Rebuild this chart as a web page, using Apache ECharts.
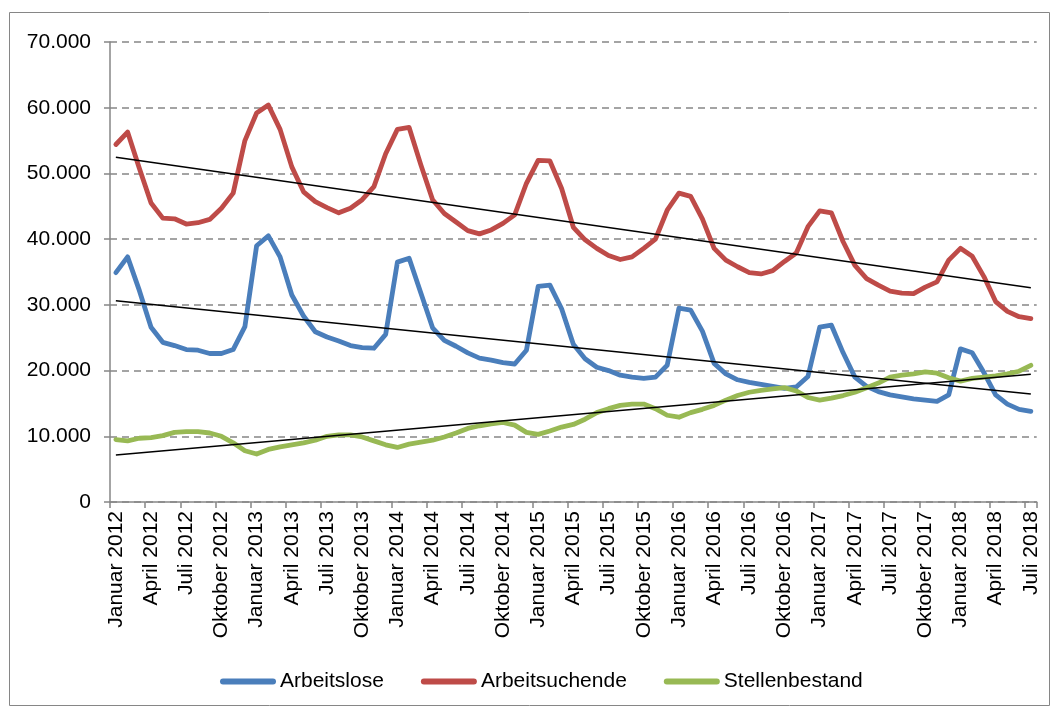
<!DOCTYPE html>
<html>
<head>
<meta charset="utf-8">
<script src="https://cdn.jsdelivr.net/npm/echarts@6/dist/echarts.min.js"></script>
<style>
  html, body { margin: 0; padding: 0; background: #ffffff; }
  #chart { width: 1054px; height: 709px; }
</style>
</head>
<body>
<div id="chart"></div>
<script>
// ---- Data ----
const MONTH_NAMES = ['Januar', 'Februar', 'März', 'April', 'Mai', 'Juni', 'Juli', 'August', 'September', 'Oktober', 'November', 'Dezember'];
const YEARS = [2012, 2013, 2014, 2015, 2016, 2017, 2018];
const LAST_MONTH_2018 = 7; // Januar..Juli 2018

const arbeitslose = [
  34900, 37300, 32200, 26600, 24300, 23800, 23200, 23100, 22600, 22600, 23200, 26700,
  39000, 40500, 37300, 31500, 28300, 25900, 25100, 24500, 23800, 23500, 23400, 25500,
  36500, 37100, 31800, 26500, 24600, 23700, 22700, 21900, 21600, 21200, 21000, 23100,
  32800, 33000, 29400, 24000, 21800, 20500, 20000, 19300, 19000, 18800, 19000, 20800,
  29500, 29200, 26000, 21100, 19500, 18600, 18200, 17900, 17600, 17300, 17500, 19100,
  26600, 26900, 22700, 19000, 17600, 16800, 16300, 16000, 15700, 15500, 15300, 16300,
  23300, 22700, 19700, 16300, 14900, 14100, 13800
];
const arbeitsuchende = [
  54400, 56300, 50800, 45500, 43200, 43100, 42300, 42500, 43000, 44700, 47000, 55000,
  59200, 60400, 56700, 51000, 47200, 45700, 44800, 44000, 44700, 46000, 48000, 53000,
  56700, 57000, 51300, 46000, 43900, 42600, 41300, 40800, 41400, 42400, 43700, 48500,
  52000, 51900, 47700, 41800, 39900, 38600, 37500, 36900, 37300, 38600, 40000, 44400,
  47000, 46500, 43100, 38600, 36800, 35800, 34900, 34700, 35200, 36600, 37900, 41900,
  44300, 44000, 39600, 36000, 34000, 33000, 32100, 31800, 31700, 32700, 33500, 36800,
  38600, 37400, 34300, 30500, 29000, 28200, 27900
];
const stellenbestand = [
  9500, 9300, 9700, 9800, 10100, 10600, 10700, 10700, 10500, 10000, 9000, 7800,
  7300, 8000, 8400, 8700, 9000, 9400, 10000, 10200, 10200, 9900, 9300, 8700,
  8300, 8800, 9100, 9400, 9900, 10500, 11200, 11600, 11900, 12100, 11700, 10600,
  10300, 10800, 11400, 11800, 12600, 13600, 14200, 14700, 14900, 14900, 14200, 13200,
  12900, 13600, 14100, 14700, 15500, 16200, 16700, 17000, 17200, 17400, 16900, 15900,
  15500, 15800, 16200, 16700, 17400, 18100, 19000, 19300, 19500, 19800, 19600, 18900,
  18400, 18800, 19000, 19200, 19500, 19900, 20800
];
// Linear trend lines: values read at first (Januar 2012) and last (Juli 2018) month
const trendArbeitslose = [30640, 16440];
const trendArbeitsuchende = [52460, 32610];
const trendStellenbestand = [7150, 19430];

const Y_TICKS = [0, 10000, 20000, 30000, 40000, 50000, 60000, 70000];

// ---- Build categories ----
const categories = [];
YEARS.forEach(function (y) {
  const n = (y === 2018) ? LAST_MONTH_2018 : 12;
  for (let m = 0; m < n; m++) categories.push(MONTH_NAMES[m] + ' ' + y);
});
const lastIdx = categories.length - 1;

function fmt(v) {
  return String(v).replace(/\B(?=(\d{3})+(?!\d))/g, '.');
}

const FONT = "'Liberation Sans', Arial, sans-serif";
const GRAY = '#868686';

const chart = echarts.init(document.getElementById('chart'), null, { renderer: 'canvas' });

function mainSeries(name, data, color) {
  return {
    name: name, type: 'line', data: data, symbol: 'none', smooth: false,
    lineStyle: { color: color, width: 4.8, cap: 'round', join: 'round' },
    itemStyle: { color: color },
    emphasis: { disabled: true }, animation: false
  };
}
function trendSeries(name, ends) {
  return {
    name: name, type: 'line', data: [[0, ends[0]], [lastIdx, ends[1]]],
    symbol: 'none', lineStyle: { color: '#000000', width: 1.5 },
    itemStyle: { color: '#000000' }, z: 5,
    emphasis: { disabled: true }, animation: false
  };
}

const legendIcon = 'path://M3,0 L53,0 A3,3 0 0 1 53,6 L3,6 A3,3 0 0 1 3,0 Z';

chart.setOption({
  animation: false,
  backgroundColor: '#ffffff',
  textStyle: { fontFamily: FONT },
  grid: { left: 110, right: 17.3, top: 42, bottom: 207, containLabel: false },
  graphic: [{
    type: 'rect', silent: true,
    shape: { x: 9.5, y: 12.5, width: 1040, height: 693 },
    style: { fill: 'none', stroke: GRAY, lineWidth: 1 }
  }],
  legend: {
    data: ['Arbeitslose', 'Arbeitsuchende', 'Stellenbestand'],
    left: 215, top: 666,
    itemWidth: 56, itemHeight: 6, itemGap: 37,
    icon: legendIcon,
    textStyle: { fontSize: 21, color: '#000000', fontFamily: FONT, padding: [0, 0, 0, -1] }
  },
  xAxis: {
    type: 'category', data: categories, boundaryGap: true,
    axisLine: { show: true, lineStyle: { color: GRAY, width: 1.5 } },
    axisTick: { show: true, interval: 2, length: 6, alignWithLabel: false, lineStyle: { color: GRAY, width: 1.5 } },
    axisLabel: { interval: 2, rotate: 90, fontSize: 21, color: '#000000', fontFamily: FONT, margin: 9 },
    splitLine: { show: false }
  },
  yAxis: {
    type: 'value', min: 0, max: 70000, interval: 10000,
    axisLine: { show: true, lineStyle: { color: GRAY, width: 1.5 } },
    axisTick: { show: true, length: 6, lineStyle: { color: GRAY, width: 1.5 } },
    axisLabel: {
      fontSize: 21, color: '#000000', fontFamily: FONT, margin: 19,
      formatter: function (v) { return Y_TICKS.indexOf(v) >= 0 ? fmt(v) : ''; }
    },
    splitLine: { show: true, lineStyle: { color: GRAY, width: 1.5, type: [7, 5] } }
  },
  series: [
    mainSeries('Arbeitslose', arbeitslose, '#4a7ebb'),
    mainSeries('Arbeitsuchende', arbeitsuchende, '#be4b48'),
    mainSeries('Stellenbestand', stellenbestand, '#98b954'),
    trendSeries('Trend Arbeitslose', trendArbeitslose),
    trendSeries('Trend Arbeitsuchende', trendArbeitsuchende),
    trendSeries('Trend Stellenbestand', trendStellenbestand)
  ]
});
</script>
</body>
</html>
